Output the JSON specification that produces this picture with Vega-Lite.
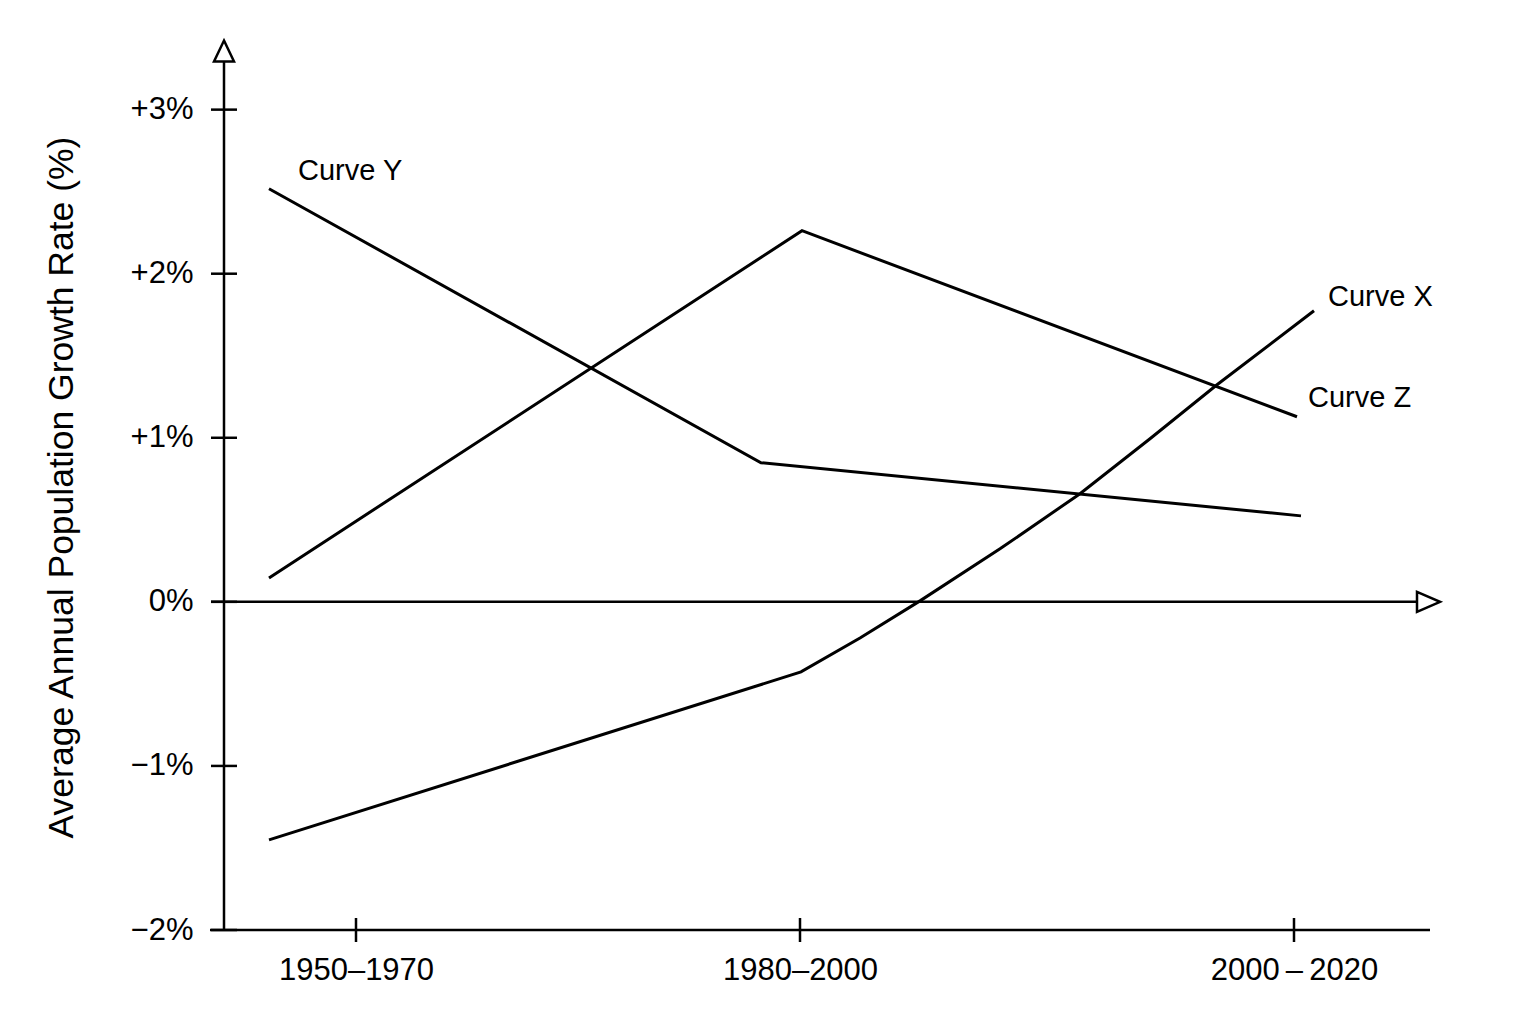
{
  "$schema": "https://vega.github.io/schema/vega-lite/v6.json",
  "width": 1216,
  "height": 886,
  "autosize": "none",
  "padding": {"left": 224, "top": 44, "right": 96, "bottom": 94},
  "background": "white",
  "config": {
    "view": {"stroke": null},
    "font": "Liberation Sans",
    "axis": {"grid": false, "domain": false, "ticks": false, "labelColor": "black", "titleColor": "black"}
  },
  "datasets": {
    "curves": [
      {"curve": "Y", "seq": 1, "pos": 0.45, "rate": 2.518},
      {"curve": "Y", "seq": 2, "pos": 5.37, "rate": 0.848},
      {"curve": "Y", "seq": 3, "pos": 10.77, "rate": 0.524},
      {"curve": "Z", "seq": 1, "pos": 0.45, "rate": 0.146},
      {"curve": "Z", "seq": 2, "pos": 5.78, "rate": 2.262},
      {"curve": "Z", "seq": 3, "pos": 10.73, "rate": 1.128},
      {"curve": "X", "seq": 1, "pos": 0.45, "rate": -1.451},
      {"curve": "X", "seq": 2, "pos": 5.77, "rate": -0.427},
      {"curve": "X", "seq": 3, "pos": 6.36, "rate": -0.22},
      {"curve": "X", "seq": 4, "pos": 6.96, "rate": 0.006},
      {"curve": "X", "seq": 5, "pos": 7.76, "rate": 0.323},
      {"curve": "X", "seq": 6, "pos": 8.56, "rate": 0.659},
      {"curve": "X", "seq": 7, "pos": 9.26, "rate": 0.994},
      {"curve": "X", "seq": 8, "pos": 9.93, "rate": 1.323},
      {"curve": "X", "seq": 9, "pos": 10.9, "rate": 1.774}
    ],
    "labels": [
      {"label": "Curve Y", "pos": 0.74, "rate": 2.628},
      {"label": "Curve X", "pos": 11.04, "rate": 1.86},
      {"label": "Curve Z", "pos": 10.84, "rate": 1.244}
    ],
    "yticks": [
      {"rate": -2}, {"rate": -1}, {"rate": 0}, {"rate": 1}, {"rate": 2}, {"rate": 3}
    ],
    "xticks": [
      {"pos": 1.32}, {"pos": 5.76}, {"pos": 10.7}
    ],
    "one": [{}]
  },
  "layer": [
    {
      "data": {"name": "curves"},
      "mark": {"type": "line", "color": "black", "strokeWidth": 3},
      "encoding": {
        "x": {
          "field": "pos",
          "type": "quantitative",
          "scale": {"domain": [0, 12.16], "nice": false, "zero": false},
          "axis": {
            "values": [1.32, 5.76, 10.7],
            "labelExpr": "datum.value < 3 ? '1950–1970' : datum.value < 8 ? '1980–2000' : '2000\u2009–\u20092020'",
            "title": null,
            "labelFontSize": 31,
            "labelPadding": 25
          }
        },
        "y": {
          "field": "rate",
          "type": "quantitative",
          "scale": {"domain": [-2, 3.4], "nice": false, "zero": false},
          "axis": {
            "values": [-2, -1, 0, 1, 2, 3],
            "labelExpr": "datum.value > 0 ? '+' + datum.value + '%' : datum.value < 0 ? '−' + abs(datum.value) + '%' : '0%'",
            "title": "Average Annual Population Growth Rate (%)",
            "titleFontSize": 35.5,
            "titleFontWeight": "normal",
            "titlePadding": 51,
            "labelFontSize": 31,
            "labelPadding": 31
          }
        },
        "detail": {"field": "curve", "type": "nominal"},
        "order": {"field": "seq", "type": "quantitative"}
      }
    },
    {
      "data": {"name": "one"},
      "mark": {"type": "rule", "color": "black", "strokeWidth": 2.5},
      "encoding": {
        "x": {"datum": 0},
        "y": {"datum": -2},
        "y2": {"datum": 3.29}
      }
    },
    {
      "data": {"name": "one"},
      "mark": {"type": "rule", "color": "black", "strokeWidth": 2.5},
      "encoding": {
        "x": {"datum": -0.14},
        "x2": {"datum": 12.06},
        "y": {"datum": -2}
      }
    },
    {
      "data": {"name": "one"},
      "mark": {"type": "rule", "color": "black", "strokeWidth": 2.5},
      "encoding": {
        "x": {"datum": -0.13},
        "x2": {"datum": 11.93},
        "y": {"datum": 0}
      }
    },
    {
      "data": {"name": "yticks"},
      "mark": {"type": "tick", "orient": "horizontal", "color": "black", "size": 26, "thickness": 2.5, "opacity": 1},
      "encoding": {
        "x": {"datum": 0},
        "y": {"field": "rate", "type": "quantitative"}
      }
    },
    {
      "data": {"name": "xticks"},
      "mark": {"type": "tick", "orient": "vertical", "color": "black", "size": 24, "thickness": 2.5, "opacity": 1},
      "encoding": {
        "x": {"field": "pos", "type": "quantitative"},
        "y": {"datum": -2}
      }
    },
    {
      "data": {"name": "one"},
      "mark": {"type": "point", "shape": "M0,-1.05L1,1.05L-1,1.05Z", "size": 400, "filled": true, "fill": "white", "stroke": "black", "strokeWidth": 2.5, "opacity": 1},
      "encoding": {
        "x": {"datum": 0},
        "y": {"datum": 3.357}
      }
    },
    {
      "data": {"name": "one"},
      "mark": {"type": "point", "shape": "M1.15,0L-1.15,1L-1.15,-1Z", "size": 400, "filled": true, "fill": "white", "stroke": "black", "strokeWidth": 2.5, "opacity": 1},
      "encoding": {
        "x": {"datum": 12.045},
        "y": {"datum": 0}
      }
    },
    {
      "data": {"name": "labels"},
      "mark": {"type": "text", "align": "left", "baseline": "middle", "fontSize": 29, "color": "black"},
      "encoding": {
        "x": {"field": "pos", "type": "quantitative"},
        "y": {"field": "rate", "type": "quantitative"},
        "text": {"field": "label"}
      }
    }
  ]
}
